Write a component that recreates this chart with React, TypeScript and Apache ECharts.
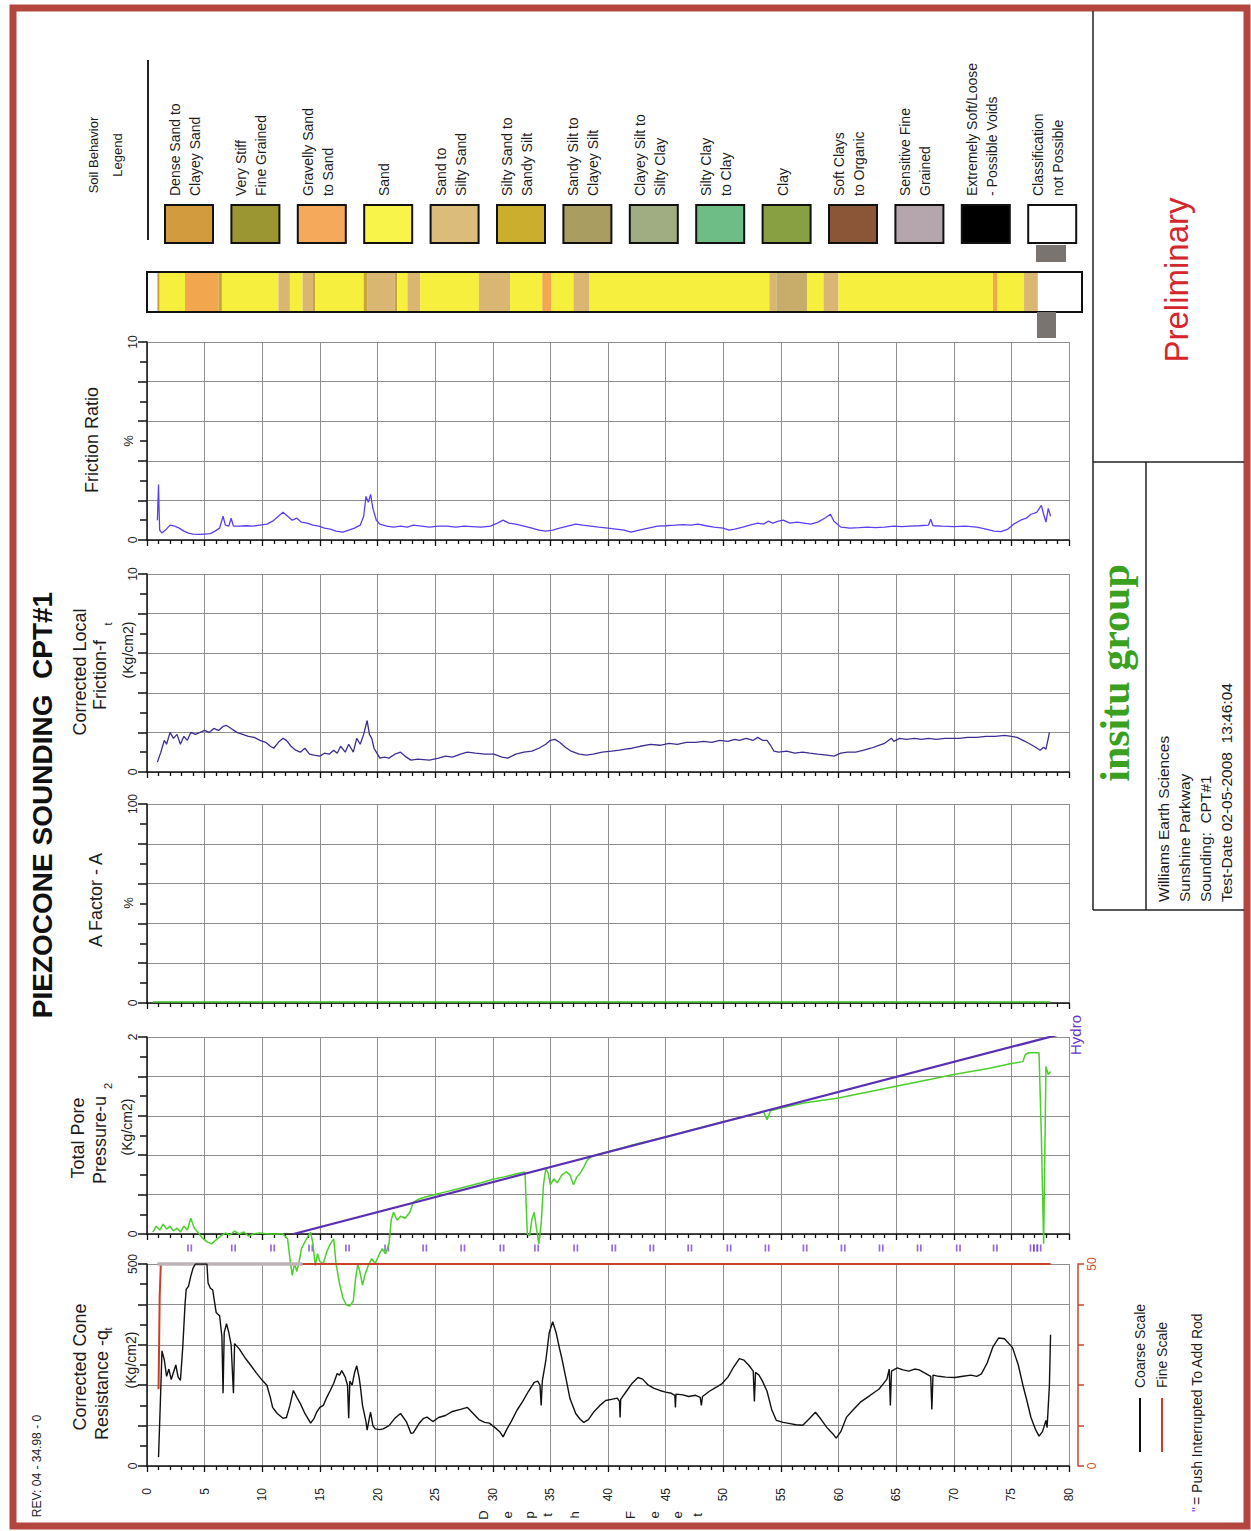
import React, { useEffect, useRef } from 'react';
import * as echarts from 'echarts';

// ---------- DATA ----------
const depthLabelsUnit = ['D', 'e', 'p', 't', 'h', 'F', 'e', 'e', 't'];

// Friction ratio (%)
const frData: number[][] = [[0.9,1.0],[1.0,2.8],[1.05,1.5],[1.1,0.5],[1.3,0.35],[1.6,0.5],[2.0,0.75],[2.4,0.7],[2.8,0.6],[3.2,0.45],[3.6,0.35],[4.0,0.3],[4.5,0.28],[5.0,0.3],[5.5,0.32],[5.9,0.45],[6.3,0.6],[6.6,1.2],[6.8,0.75],[7.1,0.7],[7.3,1.1],[7.5,0.7],[8.0,0.7],[8.6,0.72],[9.2,0.7],[9.8,0.75],[10.4,0.8],[10.9,0.95],[11.4,1.2],[11.8,1.4],[12.2,1.2],[12.6,1.0],[13.0,1.1],[13.4,0.9],[13.9,0.85],[14.4,0.75],[14.9,0.7],[15.4,0.6],[15.9,0.55],[16.4,0.45],[17.0,0.4],[17.5,0.5],[18.0,0.6],[18.5,0.75],[18.8,1.2],[19.0,2.2],[19.2,1.9],[19.4,2.3],[19.6,1.6],[19.9,1.0],[20.2,0.8],[20.8,0.7],[21.4,0.65],[22.0,0.7],[22.6,0.65],[23.1,0.75],[23.8,0.7],[24.5,0.65],[25.3,0.7],[26.0,0.7],[26.8,0.65],[27.5,0.7],[28.2,0.68],[29.0,0.65],[29.8,0.7],[30.4,0.85],[30.9,1.0],[31.4,0.85],[32.0,0.8],[32.7,0.7],[33.4,0.6],[34.0,0.5],[34.6,0.45],[35.2,0.5],[35.8,0.6],[36.5,0.7],[37.2,0.8],[37.8,0.75],[38.5,0.7],[39.2,0.65],[40.0,0.6],[40.7,0.55],[41.4,0.5],[42.0,0.4],[42.7,0.5],[43.5,0.6],[44.3,0.7],[45.0,0.72],[45.8,0.75],[46.5,0.78],[47.2,0.75],[47.8,0.8],[48.5,0.72],[49.2,0.65],[50.0,0.6],[50.5,0.5],[51.0,0.55],[51.7,0.65],[52.3,0.75],[53.0,0.85],[53.5,0.8],[53.9,0.95],[54.3,0.85],[54.8,0.95],[55.2,1.0],[55.8,0.85],[56.4,0.9],[57.0,0.85],[57.6,0.8],[58.2,0.9],[58.8,1.1],[59.3,1.3],[59.6,0.95],[60.2,0.65],[61.0,0.6],[61.8,0.62],[62.5,0.65],[63.2,0.62],[64.0,0.65],[64.8,0.7],[65.5,0.68],[66.2,0.7],[67.0,0.72],[67.8,0.75],[68.0,1.05],[68.2,0.72],[69.0,0.7],[70.0,0.68],[71.0,0.7],[72.0,0.65],[72.8,0.55],[73.5,0.45],[74.1,0.42],[74.7,0.55],[75.2,0.8],[75.8,1.0],[76.3,1.1],[76.7,1.3],[77.2,1.4],[77.6,1.75],[77.8,1.3],[78.0,0.9],[78.2,1.6],[78.4,1.2]];

// Corrected local friction ft (Kg/cm2)
const ftData: number[][] = [[0.9,0.5],[1.2,1.0],[1.5,1.6],[1.7,1.4],[2.0,2.0],[2.3,1.7],[2.6,1.9],[2.9,1.4],[3.2,1.8],[3.5,1.6],[3.8,2.0],[4.2,1.9],[4.6,2.0],[5.0,2.1],[5.4,2.0],[5.8,2.2],[6.2,2.1],[6.6,2.3],[6.9,2.35],[7.3,2.2],[7.8,2.0],[8.3,1.9],[8.8,1.8],[9.3,1.75],[9.8,1.6],[10.3,1.5],[10.7,1.3],[11.0,1.2],[11.4,1.5],[11.8,1.7],[12.1,1.6],[12.5,1.3],[12.9,1.1],[13.3,1.0],[13.7,1.2],[14.1,0.9],[14.5,0.85],[15.0,0.8],[15.4,0.95],[15.8,0.9],[16.2,1.1],[16.5,0.95],[16.8,1.3],[17.2,1.0],[17.5,1.4],[17.9,1.0],[18.2,1.7],[18.5,1.4],[18.8,1.9],[19.1,2.6],[19.3,1.9],[19.5,1.7],[19.7,1.2],[20.0,0.9],[20.2,0.7],[20.6,0.75],[21.0,0.7],[21.5,0.9],[22.0,1.0],[22.5,0.75],[22.9,0.6],[23.5,0.65],[24.5,0.6],[25.3,0.7],[25.9,0.8],[26.5,0.75],[27.2,0.9],[27.8,1.0],[28.5,0.95],[29.3,0.9],[30.1,0.9],[30.8,0.75],[31.3,0.7],[32.0,0.9],[32.7,1.0],[33.4,1.05],[34.0,1.2],[34.6,1.4],[35.0,1.6],[35.4,1.65],[35.8,1.5],[36.3,1.25],[36.8,1.05],[37.5,0.9],[38.1,0.85],[38.7,0.9],[39.5,1.0],[40.3,1.05],[41.0,1.1],[41.5,1.15],[42.1,1.2],[42.8,1.3],[43.7,1.4],[44.5,1.35],[45.3,1.45],[46.0,1.4],[46.8,1.5],[47.6,1.5],[48.3,1.55],[49.0,1.5],[49.7,1.6],[50.4,1.55],[51.0,1.65],[51.4,1.6],[52.0,1.7],[52.6,1.6],[53.0,1.75],[53.4,1.6],[53.8,1.6],[54.1,1.35],[54.4,1.05],[54.8,1.0],[55.5,1.05],[56.2,0.95],[56.9,1.0],[57.5,0.95],[58.2,0.9],[59.0,0.85],[59.6,0.8],[60.2,0.95],[60.8,1.0],[61.5,1.0],[62.2,1.1],[62.8,1.2],[63.5,1.35],[64.0,1.45],[64.6,1.7],[64.8,1.55],[65.3,1.7],[65.9,1.65],[66.6,1.7],[67.2,1.65],[67.8,1.7],[68.5,1.65],[69.2,1.7],[70.0,1.7],[70.5,1.7],[71.2,1.75],[72.0,1.75],[72.8,1.8],[73.6,1.8],[74.4,1.85],[75.0,1.8],[75.5,1.75],[76.0,1.6],[76.5,1.45],[77.1,1.25],[77.5,1.1],[77.8,1.25],[78.0,1.15],[78.2,1.7],[78.3,2.0]];

// A factor (%)
const aData: number[][] = [[0.5,0.5],[78.4,0.5]];

// Hydrostatic line (Kg/cm2)
const hydroData: number[][] = [[12.7,0],[79.3,2.03]];

// Total pore pressure u2 (Kg/cm2)
const u2Data: number[][] = [[0.5,0.02],[0.8,0.08],[1.1,0.04],[1.4,0.1],[1.7,0.05],[2.0,0.08],[2.3,0.03],[2.6,0.06],[2.9,0.02],[3.2,0.08],[3.5,0.04],[3.8,0.16],[4.1,0.06],[4.4,0.02],[4.8,-0.04],[5.2,-0.08],[5.6,-0.1],[6.0,-0.06],[6.4,-0.02],[6.8,0.01],[7.2,-0.01],[7.6,0.03],[8.0,0.0],[8.4,0.02],[8.8,-0.02],[9.2,0.0],[9.8,0.01],[10.5,0.0],[11.2,0.0],[11.8,0.0],[12.2,-0.05],[12.4,-0.25],[12.6,-0.42],[12.8,-0.3],[13.0,-0.38],[13.2,-0.28],[13.4,-0.15],[13.7,-0.08],[14.0,-0.02],[14.2,0.02],[14.4,-0.1],[14.6,-0.32],[14.8,-0.2],[15.0,-0.28],[15.3,-0.3],[15.6,-0.18],[15.9,-0.1],[16.2,-0.05],[16.4,-0.3],[16.7,-0.5],[17.0,-0.65],[17.3,-0.72],[17.6,-0.73],[17.9,-0.68],[18.1,-0.45],[18.3,-0.3],[18.5,-0.4],[18.7,-0.52],[18.9,-0.42],[19.2,-0.32],[19.5,-0.25],[19.8,-0.3],[20.1,-0.22],[20.4,-0.15],[20.7,-0.2],[21.0,-0.1],[21.2,0.15],[21.4,0.22],[21.7,0.14],[22.0,0.18],[22.4,0.16],[22.8,0.22],[23.1,0.32],[23.5,0.35],[24.0,0.37],[25,0.4],[26,0.43],[27,0.46],[28,0.49],[29,0.52],[30,0.555],[31,0.58],[32,0.61],[32.8,0.63],[32.9,0.3],[33.0,0.0],[33.2,-0.02],[33.4,0.15],[33.6,0.22],[33.8,0.05],[34.0,-0.1],[34.2,0.1],[34.4,0.5],[34.6,0.66],[34.8,0.62],[35.0,0.5],[35.3,0.56],[35.6,0.52],[36.0,0.6],[36.4,0.63],[36.7,0.6],[37.0,0.5],[37.3,0.58],[37.6,0.62],[37.9,0.68],[38.2,0.75],[38.6,0.79],[39.5,0.82],[40,0.835],[42,0.9],[45,0.985],[48,1.08],[50,1.14],[53.5,1.24],[53.8,1.16],[54.1,1.25],[55,1.28],[57,1.33],[60,1.38],[62,1.43],[65,1.5],[68,1.57],[70,1.62],[73,1.68],[75,1.73],[76.0,1.75],[76.2,1.82],[76.5,1.84],[77.4,1.84],[77.6,1.0],[77.8,-0.1],[77.9,0.8],[78.0,1.7],[78.2,1.62],[78.4,1.65]];

// Corrected cone resistance qt (Kg/cm2), coarse scale
const qtData: number[][] = [[1.0,22],[1.15,150],[1.3,285],[1.5,263],[1.7,222],[1.9,240],[2.1,214],[2.3,232],[2.5,250],[2.7,220],[2.9,212],[3.1,293],[3.3,400],[3.4,437],[3.6,445],[3.8,470],[4.0,490],[4.2,500],[4.5,500],[5.0,500],[5.2,500],[5.3,453],[5.5,440],[5.7,436],[6.0,380],[6.3,372],[6.5,320],[6.6,180],[6.7,330],[6.9,352],[7.1,330],[7.3,300],[7.5,180],[7.6,303],[8.0,290],[8.5,268],[8.9,253],[9.5,230],[10.0,212],[10.4,200],[10.7,170],[10.9,145],[11.3,130],[11.8,118],[12.1,120],[12.4,150],[12.7,187],[13.0,170],[13.3,155],[13.7,130],[14.2,106],[14.5,118],[14.7,132],[15.0,145],[15.3,150],[15.6,170],[15.9,187],[16.2,205],[16.5,229],[16.7,225],[16.9,236],[17.2,220],[17.4,200],[17.5,118],[17.6,210],[17.8,200],[18.0,230],[18.2,248],[18.4,220],[18.5,200],[18.7,150],[19.0,110],[19.1,89],[19.3,120],[19.4,133],[19.6,100],[19.8,92],[20.2,90],[20.5,92],[21.0,100],[21.5,118],[22.0,130],[22.5,110],[22.9,81],[23.1,82],[23.6,105],[24.0,118],[24.3,121],[24.8,110],[25.3,120],[25.9,125],[26.5,135],[27.2,140],[27.8,145],[28.3,130],[28.8,115],[29.3,108],[29.7,106],[30.2,95],[30.6,85],[30.9,72],[31.2,90],[31.6,110],[32.1,138],[32.6,160],[33.1,185],[33.6,207],[33.9,210],[34.1,200],[34.2,150],[34.3,210],[34.6,260],[34.9,330],[35.2,357],[35.5,330],[35.8,290],[36.0,266],[36.4,210],[36.7,167],[37.2,130],[37.6,115],[37.9,108],[38.3,115],[38.8,135],[39.3,150],[39.8,162],[40.3,165],[40.8,168],[41.0,160],[41.05,120],[41.1,165],[41.6,185],[42.1,205],[42.6,219],[43.0,215],[43.5,200],[44.0,192],[44.5,187],[45.0,183],[45.5,180],[45.8,175],[45.85,145],[45.9,178],[46.5,176],[47.0,172],[47.6,175],[48.0,170],[48.1,150],[48.2,172],[48.8,185],[49.4,195],[49.9,204],[50.4,220],[50.9,245],[51.4,266],[51.8,262],[52.2,250],[52.6,235],[52.7,160],[52.8,232],[53.1,225],[53.4,210],[53.8,185],[54.2,140],[54.6,113],[55.2,108],[55.8,105],[56.3,102],[56.9,101],[57.4,115],[58.0,133],[58.5,115],[59.0,95],[59.5,80],[59.8,69],[60.2,85],[60.7,121],[61.3,140],[61.9,158],[62.5,170],[63.0,180],[63.5,190],[63.9,204],[64.2,215],[64.4,240],[64.5,150],[64.6,235],[65.1,243],[65.6,238],[66.1,235],[66.6,240],[67.0,238],[67.5,230],[68.0,222],[68.1,140],[68.2,225],[68.7,222],[69.3,220],[70.1,219],[70.8,222],[71.5,225],[72.0,222],[72.4,228],[72.9,255],[73.4,295],[73.9,317],[74.4,315],[75.1,293],[75.6,250],[76.0,200],[76.3,167],[76.7,120],[77.1,90],[77.4,74],[77.7,85],[78.0,113],[78.1,95],[78.3,200],[78.4,325]];

// qt fine scale (0-50)
const qtFineData: number[][] = [[1.0,19],[1.05,30],[1.1,42],[1.2,50],[78.4,50]];
const qtFineGreyData: number[][] = [[0.9,50],[13.5,50]];

// Push interrupted to add rod (depths, ft)
const rodBreaks: number[] = [3.7,7.5,10.9,14.2,17.4,20.8,24.1,27.4,30.8,33.8,37.2,40.5,43.8,47.1,50.5,53.8,57.1,60.4,63.7,67.0,70.4,73.6,76.8,77.1,77.4];

// Soil behaviour legend
const soilNames: string[] = [
  'Dense Sand to\nClayey Sand', 'Very Stiff\nFine Grained', 'Gravelly Sand\nto Sand', 'Sand',
  'Sand to\nSilty Sand', 'Silty Sand to\nSandy Silt', 'Sandy Silt to\nClayey Silt', 'Clayey Silt to\nSilty Clay',
  'Silty Clay\nto Clay', 'Clay', 'Soft Clays\nto Organic', 'Sensitive Fine\nGrained',
  'Extremely Soft/Loose\n- Possible Voids', 'Classification\nnot Possible'
];
const soilColors: string[] = [
  '#d19b3e', '#9c9632', '#f4aa5a', '#f8f44a', '#dcbc7a', '#cbae2e', '#a99d62',
  '#a0ad82', '#6fbd86', '#89a042', '#8b5538', '#b5a6ad', '#000000', '#ffffff'
];

// Soil strip bands: [fromDepth, toDepth, colourIndex into stripColors]
const stripColors: string[] = ['#ffffff', '#f7ef3e', '#d9b772', '#f2a64e', '#c9a43a', '#c8ad6a'];
const soilBands: number[][] = [
  [0.0,0.9,0],[0.9,1.1,4],[1.1,3.3,1],[3.3,6.2,3],[6.2,6.5,4],[6.5,11.4,1],[11.4,12.4,2],[12.4,13.5,1],
  [13.5,14.4,2],[14.4,14.6,4],[14.6,18.8,1],[18.8,19.1,4],[19.1,21.5,2],[21.5,21.7,4],[21.7,22.6,1],
  [22.6,23.7,2],[23.7,28.8,1],[28.8,31.5,2],[31.5,34.3,1],[34.3,35.1,3],[35.1,37.0,1],[37.0,38.4,2],
  [38.4,54.0,1],[54.0,54.6,2],[54.6,57.3,5],[57.3,58.7,1],[58.7,60.0,2],[60.0,73.4,1],[73.4,73.8,3],
  [73.8,76.1,1],[76.1,77.3,2],[77.3,81.2,0]
];

const infoLines: string[] = ['Williams Earth Sciences', 'Sunshine Parkway', 'Sounding:  CPT#1', 'Test-Date 02-05-2008  13:46:04'];

// ---------- LAYOUT ----------
const FONT = '"Liberation Sans", Arial, Helvetica, sans-serif';
const L = 147, W = 922;
const panels = [
  { top: 342, h: 198, max: 10, interval: 2 },   // FR
  { top: 574, h: 198, max: 10, interval: 2 },   // ft
  { top: 804, h: 199, max: 100, interval: 20 }, // A
  { top: 1037, h: 197, max: 2, interval: 0.4 }, // u2
  { top: 1264, h: 202, max: 500, interval: 100 } // qt
];

function vtext(text: string, x: number, y: number, size: number, o: any = {}) {
  const align = o.align || 'center';
  const valign = o.valign || 'middle';
  return {
    type: 'text', x, y, rotation: Math.PI / 2, z: 100, scaleX: o.sx || 1,
    style: {
      text, fill: o.fill || '#1c1c1c',
      font: `${o.weight || 'normal'} ${size}px ${o.family || FONT}`,
      textAlign: align, align, textVerticalAlign: valign, verticalAlign: valign,
      lineHeight: o.lh || Math.round(size * 1.2)
    }
  };
}

function buildOption() {
  const grids: any[] = panels.map(p => ({ left: L, top: p.top, width: W, height: p.h }));
  grids.push({ left: L, top: 272, width: W, height: 40 });   // 5 soil strip
  grids.push({ left: L, top: 1241, width: W, height: 14 });  // 6 rod markers

  const xAxes: any[] = [];
  for (let i = 0; i < 5; i++) {
    xAxes.push({
      type: 'value', gridIndex: i, min: 0, max: 80, interval: 5,
      axisLine: { show: true, onZero: false, lineStyle: { color: '#111', width: 1.5 } },
      axisTick: { show: true, length: 6, lineStyle: { color: '#111', width: 1.3 } },
      minorTick: { show: true, splitNumber: 5, length: 4, lineStyle: { color: '#111', width: 1.3 } },
      splitLine: { show: true, lineStyle: { color: '#8e8e8e', width: 1 } },
      axisLabel: { show: i === 4, rotate: 90, margin: 22, fontSize: 12, color: '#222', fontFamily: FONT }
    });
  }
  xAxes.push({ type: 'value', gridIndex: 5, min: 0, max: 80, show: false });
  xAxes.push({ type: 'value', gridIndex: 6, min: 0, max: 80, show: false });

  const yAxes: any[] = panels.map((p, i) => ({
    type: 'value', gridIndex: i, min: 0, max: p.max, interval: p.interval,
    axisLine: { show: true, lineStyle: { color: '#111', width: 1.5 } },
    axisTick: { show: true, length: 9, lineStyle: { color: '#111', width: 1.5 } },
    minorTick: { show: true, splitNumber: 2, length: 7, lineStyle: { color: '#111', width: 1.5 } },
    splitLine: { show: true, lineStyle: { color: '#8e8e8e', width: 1 } },
    axisLabel: {
      rotate: 90, margin: 8, fontSize: 12, color: '#222', fontFamily: FONT,
      formatter: (v: number) => (Math.abs(v) < 1e-9 || Math.abs(v - p.max) < 1e-6) ? String(Math.round(v)) : ''
    }
  }));
  // fine scale for qt
  yAxes.push({
    type: 'value', gridIndex: 4, position: 'right', offset: 9, min: 0, max: 50, interval: 10,
    axisLine: { show: true, lineStyle: { color: '#c8442e', width: 1.5 } },
    axisTick: { show: true, length: 6, lineStyle: { color: '#c8442e', width: 1.5 } },
    splitLine: { show: false },
    axisLabel: {
      rotate: 90, margin: 8, fontSize: 12, color: '#d0502e', fontFamily: FONT,
      formatter: (v: number) => (v === 0 || v === 50) ? String(v) : ''
    }
  });
  yAxes.push({ type: 'value', gridIndex: 5, min: 0, max: 1, show: false });
  yAxes.push({ type: 'value', gridIndex: 6, min: 0, max: 1, show: false });

  const line = (x: number, y: number, data: number[][], color: string, width: number, extra: any = {}) => ({
    type: 'line', xAxisIndex: x, yAxisIndex: y, data, showSymbol: false, symbol: 'none',
    lineStyle: { color, width }, itemStyle: { color }, silent: true, ...extra
  });

  const series: any[] = [
    line(0, 0, frData, '#5a3ff0', 1.3),
    line(1, 1, ftData, '#3b2f92', 1.3),
    line(2, 2, aData, '#3fc026', 1.5),
    line(3, 3, hydroData, '#5a2fb4', 2.2, { z: 4 }),
    line(3, 3, u2Data, '#4ccf2c', 1.5, { clip: false, z: 3 }),
    line(4, 5, qtFineData, '#c8402c', 2, { clip: false }),
    line(4, 5, qtFineGreyData, '#bcb4b4', 3.5, { clip: false }),
    line(4, 4, qtData, '#111111', 1.4),
    {
      type: 'custom', xAxisIndex: 5, yAxisIndex: 6, clip: false, silent: true,
      data: soilBands,
      renderItem: (params: any, api: any) => {
        const s = api.coord([api.value(0), 1]);
        const e = api.coord([api.value(1), 0]);
        return { type: 'rect', shape: { x: s[0], y: s[1], width: e[0] - s[0], height: e[1] - s[1] },
          style: { fill: stripColors[api.value(2)] } };
      }
    },
    {
      type: 'scatter', xAxisIndex: 6, yAxisIndex: 7, silent: true,
      data: rodBreaks.map(d => [d, 0.5]),
      symbol: 'path://M0 0H2V8H0ZM4 0H6V8H4Z', symbolSize: [5, 7],
      itemStyle: { color: '#7b45d8' }
    }
  ];

  const g: any[] = [];
  // outer frame
  g.push({ type: 'rect', shape: { x: 13, y: 8, width: 1234, height: 1518 }, style: { fill: 'none', stroke: '#b3463f', lineWidth: 7 }, z: 1 });
  // title block lines
  const bl = (x1: number, y1: number, x2: number, y2: number) => ({ type: 'line', shape: { x1, y1, x2, y2 }, style: { stroke: '#222', lineWidth: 1.5 }, z: 2 });
  g.push(bl(1093, 11, 1093, 910), bl(1093, 462, 1244, 462), bl(1146, 462, 1146, 910), bl(1093, 910, 1244, 910));
  g.push(vtext('Preliminary', 1176, 280, 33, { fill: '#d3262d' }));
  g.push(vtext('insitu group', 1115, 673, 42, { fill: '#3b9f1f', weight: 'bold', family: '"Liberation Serif", "Times New Roman", serif' }));
  infoLines.forEach((t, i) => g.push(vtext(t, 1163 + i * 21, 902, 15.5, { align: 'left' })));

  // main title + rev
  g.push(vtext('PIEZOCONE SOUNDING  CPT#1', 42, 805, 28, { weight: 'bold', fill: '#111' }));
  g.push(vtext('REV: 04 - 34.98 - 0', 37, 1466, 12));

  // panel labels
  g.push(vtext('Friction Ratio', 92, 440, 18));
  g.push(vtext('%', 128, 441, 13));
  g.push(vtext('Corrected Local', 80, 672, 18));
  g.push(vtext('Friction-f', 100, 675, 18));
  g.push(vtext('t', 108, 624, 11));
  g.push(vtext('(Kg/cm2)', 128, 650, 14));
  g.push(vtext('A Factor - A', 96, 900, 18));
  g.push(vtext('%', 128, 903, 13));
  g.push(vtext('Total Pore', 78, 1138, 18));
  g.push(vtext('Pressure-u', 100, 1140, 18));
  g.push(vtext('2', 108, 1086, 11));
  g.push(vtext('(Kg/cm2)', 127, 1127, 14));
  g.push(vtext('Corrected Cone', 80, 1367, 18));
  g.push(vtext('Resistance -q', 102, 1385, 18));
  g.push(vtext('t', 108, 1329, 11));
  g.push(vtext('(Kg/cm2)', 131, 1360, 14));
  g.push(vtext('Hydro', 1075, 1035, 15, { fill: '#6a35c8' }));

  // depth axis title
  const letterX = [483, 507, 529, 547, 574, 630, 654, 677, 697];
  depthLabelsUnit.forEach((c, i) => g.push(vtext(c, letterX[i], 1515, 13)));

  // soil legend
  g.push({ type: 'line', shape: { x1: 148, y1: 60, x2: 148, y2: 240 }, style: { stroke: '#222', lineWidth: 2 }, z: 2 });
  g.push(vtext('Soil Behavior\nLegend', 105, 155, 13, { lh: 24 }));
  soilNames.forEach((n, i) => {
    const bx = 165 + i * 66.4;
    g.push({ type: 'rect', shape: { x: bx, y: 205, width: 48, height: 38 }, style: { fill: soilColors[i], stroke: '#111', lineWidth: 2 }, z: 5 });
    g.push(vtext(n, bx + 20, 196, 14, { align: 'left', lh: 20 }));
  });
  // soil strip frame and markers
  g.push({ type: 'rect', shape: { x: 147, y: 272, width: 935, height: 40 }, style: { fill: 'none', stroke: '#111', lineWidth: 2 }, z: 20 });
  g.push({ type: 'rect', shape: { x: 1036, y: 245, width: 30, height: 17 }, style: { fill: '#7a7471' }, z: 20 });
  g.push({ type: 'rect', shape: { x: 1037, y: 312, width: 19, height: 26 }, style: { fill: '#7a7471' }, z: 20 });

  // bottom legend
  g.push({ type: 'line', shape: { x1: 1140, y1: 1398, x2: 1140, y2: 1452 }, style: { stroke: '#111', lineWidth: 2 }, z: 5 });
  g.push({ type: 'line', shape: { x1: 1162, y1: 1398, x2: 1162, y2: 1452 }, style: { stroke: '#c8402c', lineWidth: 2 }, z: 5 });
  g.push(vtext('Coarse Scale', 1140, 1388, 14, { align: 'left' }));
  g.push(vtext('Fine Scale', 1162, 1388, 14, { align: 'left' }));
  g.push(vtext('"', 1197, 1512, 14, { align: 'left', fill: '#7b45d8' }));
  g.push(vtext('= Push Interrupted To Add Rod', 1197, 1505, 14, { align: 'left' }));

  return {
    animation: false,
    backgroundColor: '#ffffff',
    grid: grids,
    xAxis: xAxes,
    yAxis: yAxes,
    series,
    graphic: { elements: g }
  };
}

export default function App() {
  const ref = useRef<HTMLDivElement>(null);
  useEffect(() => {
    const chart = echarts.init(ref.current as HTMLDivElement, null, { renderer: 'svg' });
    chart.setOption(buildOption() as any);
    return () => chart.dispose();
  }, []);
  return <div ref={ref} style={{ position: 'absolute', left: 0, top: 0, width: 1251, height: 1531, background: '#fff' }} />;
}
